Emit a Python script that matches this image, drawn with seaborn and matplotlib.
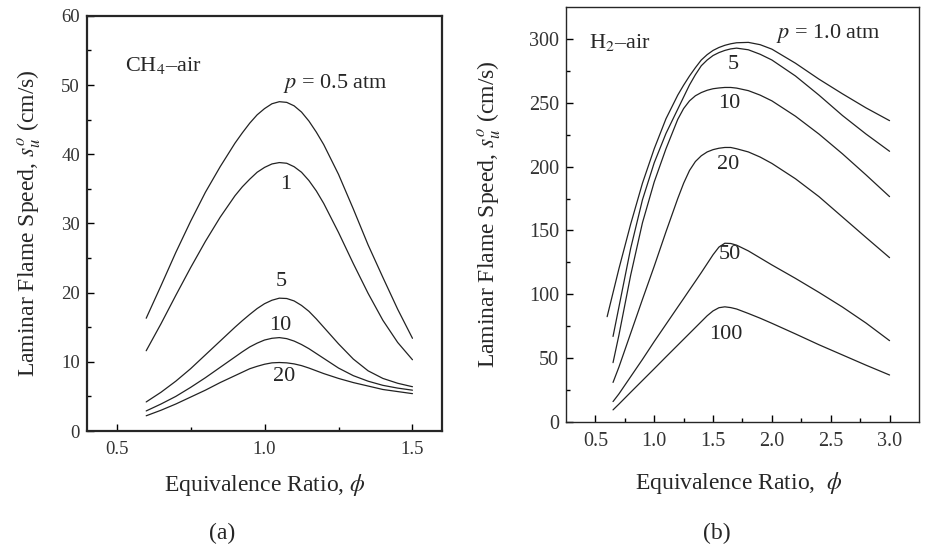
import numpy as np
import pandas as pd
import matplotlib
matplotlib.use("Agg")
import matplotlib.pyplot as plt
import seaborn as sns

# CH4-air, panel (a)
ch4_phi = [0.60, 0.65, 0.70, 0.75, 0.80, 0.85, 0.90, 0.925, 0.95, 0.975, 1.00,
           1.025, 1.05, 1.075, 1.10, 1.125, 1.15, 1.175, 1.20, 1.25, 1.30,
           1.35, 1.40, 1.45, 1.50]
ch4_p05 = [16.3, 21.0, 25.8, 30.3, 34.5, 38.2, 41.6, 43.1, 44.5, 45.7, 46.6,
           47.3, 47.6, 47.5, 47.0, 46.1, 44.8, 43.2, 41.4, 37.1, 32.1,
           26.9, 22.2, 17.6, 13.4]
ch4_p1 = [11.6, 15.5, 19.6, 23.6, 27.4, 30.9, 34.0, 35.3, 36.4, 37.4, 38.1,
          38.6, 38.8, 38.7, 38.2, 37.4, 36.2, 34.7, 32.9, 28.7, 24.2,
          19.9, 16.0, 12.8, 10.3]
ch4_p5 = [4.2, 5.6, 7.2, 9.0, 11.0, 13.0, 15.0, 15.95, 16.85, 17.7, 18.4,
          18.9, 19.2, 19.15, 18.8, 18.15, 17.3, 16.2, 15.0, 12.6, 10.4,
          8.7, 7.6, 6.9, 6.4]
ch4_p10 = [2.9, 3.9, 5.0, 6.3, 7.7, 9.2, 10.7, 11.45, 12.15, 12.7, 13.15,
           13.4, 13.5, 13.35, 13.0, 12.5, 11.9, 11.2, 10.5, 9.1, 8.0,
           7.2, 6.6, 6.2, 5.9]
ch4_p20 = [2.2, 3.0, 3.9, 4.9, 5.9, 7.0, 8.0, 8.5, 9.0, 9.35, 9.65,
           9.85, 9.9, 9.85, 9.7, 9.45, 9.1, 8.7, 8.3, 7.6, 7.0,
           6.5, 6.0, 5.7, 5.4]

# H2-air, panel (b)
h2_phi_p1 = [0.6, 0.7, 0.8, 0.9, 1.0, 1.1, 1.2, 1.25, 1.3, 1.35, 1.4, 1.45,
             1.5, 1.55, 1.6, 1.65, 1.7, 1.8, 1.9, 2.0, 2.2, 2.4, 2.6, 2.8, 3.0]
h2_p1 = [82.5, 120, 155, 187, 214, 237.5, 256, 263.8, 271, 277.5, 283.5, 287.7,
         291, 293.3, 295, 296.2, 297, 297.3, 295.5, 292, 281, 268.5, 257, 246,
         236]
h2_phi = [0.65, 0.7, 0.8, 0.9, 1.0, 1.1, 1.2, 1.25, 1.3, 1.35, 1.4, 1.45,
          1.5, 1.55, 1.6, 1.65, 1.7, 1.8, 1.9, 2.0, 2.2, 2.4, 2.6, 2.8, 3.0]
h2_p5 = [67, 90, 136, 174, 203, 226, 245, 254.5, 264, 272, 279, 283.5,
         287, 289.3, 291, 292.2, 292.8, 291.5, 288, 283.5, 271, 256, 240,
         225.5, 212]
h2_p10 = [46.5, 68, 115, 156, 188, 214, 237, 245.5, 251.5, 255.5, 258, 259.8,
          261, 261.6, 262, 262, 261.5, 259.5, 256, 251.5, 239.5, 225.5, 210,
          193.5, 176.5]
h2_p20 = [31, 43, 69.5, 96, 122, 149, 175, 187, 197, 204, 208.5, 211.5,
          213.3, 214.4, 215, 215, 214, 211.5, 207.5, 202.5, 190.5, 176.5,
          160.5, 144.5, 128.7]
h2_p50 = [16, 22, 35.5, 49, 63, 76.5, 90, 96.7, 103.5, 110.2, 117, 124,
          131, 137, 140, 139.8, 138.5, 134, 128.5, 123, 112.5, 101.5, 90,
          77.5, 63.7]
h2_p100 = [9.5, 14, 23.3, 32.5, 41.7, 51, 60.2, 64.8, 69.4, 74, 78.6, 83.2,
           87, 89.5, 90.2, 89.6, 88.5, 85, 81.3, 77.3, 69, 60.5, 52.5, 44.5,
           36.8]

ch4_df = pd.DataFrame({
    "phi": ch4_phi * 5,
    "speed": ch4_p05 + ch4_p1 + ch4_p5 + ch4_p10 + ch4_p20,
    "p": sum([[p] * len(ch4_phi) for p in ["0.5", "1", "5", "10", "20"]], []),
})
h2_df = pd.DataFrame({
    "phi": h2_phi_p1 + h2_phi * 5,
    "speed": h2_p1 + h2_p5 + h2_p10 + h2_p20 + h2_p50 + h2_p100,
    "p": ["1"] * len(h2_phi_p1)
         + sum([[p] * len(h2_phi) for p in ["5", "10", "20", "50", "100"]], []),
})

sns.set_style("ticks")
plt.rcParams["font.family"] = ["Liberation Serif", "DejaVu Serif"]
plt.rcParams["mathtext.fontset"] = "stix"

fig = plt.figure(figsize=(9.48, 5.52), dpi=100)
ax1 = fig.add_axes([0.0918, 0.2192, 0.3745, 0.752])
ax2 = fig.add_axes([0.597, 0.2355, 0.3724, 0.7518])

line_col = "#222222"
sns.lineplot(data=ch4_df, x="phi", y="speed", units="p", estimator=None,
             color=line_col, linewidth=0.9, sort=False, ax=ax1)
sns.lineplot(data=h2_df, x="phi", y="speed", units="p", estimator=None,
             color=line_col, linewidth=0.9, sort=False, ax=ax2)

# panel (a) axes
ax1.set_xlim(0.4, 1.6)
ax1.set_ylim(0, 60)
ax1.set_xticks([0.5, 1.0, 1.5])
ax1.set_xticklabels(["0.5", "1.0", "1.5"])
ax1.set_xticks([0.75, 1.25], minor=True)
ax1.set_yticks(range(0, 61, 10))
ax1.set_yticks(range(5, 60, 10), minor=True)
for s in ax1.spines.values():
    s.set_linewidth(1.6)

# panel (b) axes
ax2.set_xlim(0.25, 3.25)
ax2.set_ylim(0, 325)
ax2.set_xticks([0.5, 1.0, 1.5, 2.0, 2.5, 3.0])
ax2.set_xticklabels(["0.5", "1.0", "1.5", "2.0", "2.5", "3.0"])
ax2.set_xticks([0.75, 1.25, 1.75, 2.25, 2.75], minor=True)
ax2.set_yticks(range(0, 301, 50))
ax2.set_yticks(range(25, 300, 50), minor=True)
for s in ax2.spines.values():
    s.set_linewidth(1.0)

for ax, ls in ((ax1, 13.5), (ax2, 14.5)):
    ax.tick_params(which="both", direction="in", top=False, right=False,
                   labelsize=ls, color="black")
    ax.tick_params(which="major", length=5, width=1.0)
    ax.tick_params(which="minor", length=3, width=1.0)
    ax.tick_params(axis="x", pad=7)
    ax.tick_params(axis="y", pad=5)
    for lab in ax.get_xticklabels() + ax.get_yticklabels():
        lab.set_color("#333333")

ax1.set_xlabel(r"Equivalence Ratio, $\phi$", fontsize=17)
ax1.set_ylabel(r"Laminar Flame Speed, $s_u^o$ (cm/s)", fontsize=17)
ax1.xaxis.set_label_coords(0.5, -0.099)
ax1.yaxis.set_label_coords(-0.124, 0.5)
ax2.set_xlabel(r"Equivalence Ratio,  $\phi$", fontsize=17)
ax2.set_ylabel(r"Laminar Flame Speed, $s_u^o$ (cm/s)", fontsize=17)
ax2.xaxis.set_label_coords(0.49, -0.116)
ax2.yaxis.set_label_coords(-0.178, 0.5)

fs = 16
ax1.text(0.528, 52.9, "CH$_4$–air", fontsize=fs, ha="left", va="center")
ax1.text(1.062, 50.3, r"$p$ = 0.5 atm", fontsize=fs, ha="left", va="center")
ax1.text(1.072, 35.6, "1", fontsize=fs, ha="center", va="center")
ax1.text(1.058, 21.6, "5", fontsize=fs, ha="center", va="center")
ax1.text(1.054, 15.3, "10", fontsize=fs, ha="center", va="center")
ax1.text(1.067, 7.85, "20", fontsize=fs, ha="center", va="center")

ax2.text(0.445, 296.9, "H$_2$–air", fontsize=fs, ha="left", va="center")
ax2.text(2.036, 304.5, r"$p$ = 1.0 atm", fontsize=fs, ha="left", va="center")
ax2.text(1.668, 279.6, "5", fontsize=fs, ha="center", va="center")
ax2.text(1.64, 249.6, "10", fontsize=fs, ha="center", va="center")
ax2.text(1.625, 201.3, "20", fontsize=fs, ha="center", va="center")
ax2.text(1.64, 130.8, "50", fontsize=fs, ha="center", va="center")
ax2.text(1.61, 68.9, "100", fontsize=fs, ha="center", va="center")

fig.text(0.2339, 0.0339, "(a)", fontsize=17, ha="center", va="center")
fig.text(0.756, 0.0339, "(b)", fontsize=17, ha="center", va="center")

fig.savefig("out.png", dpi=100)
